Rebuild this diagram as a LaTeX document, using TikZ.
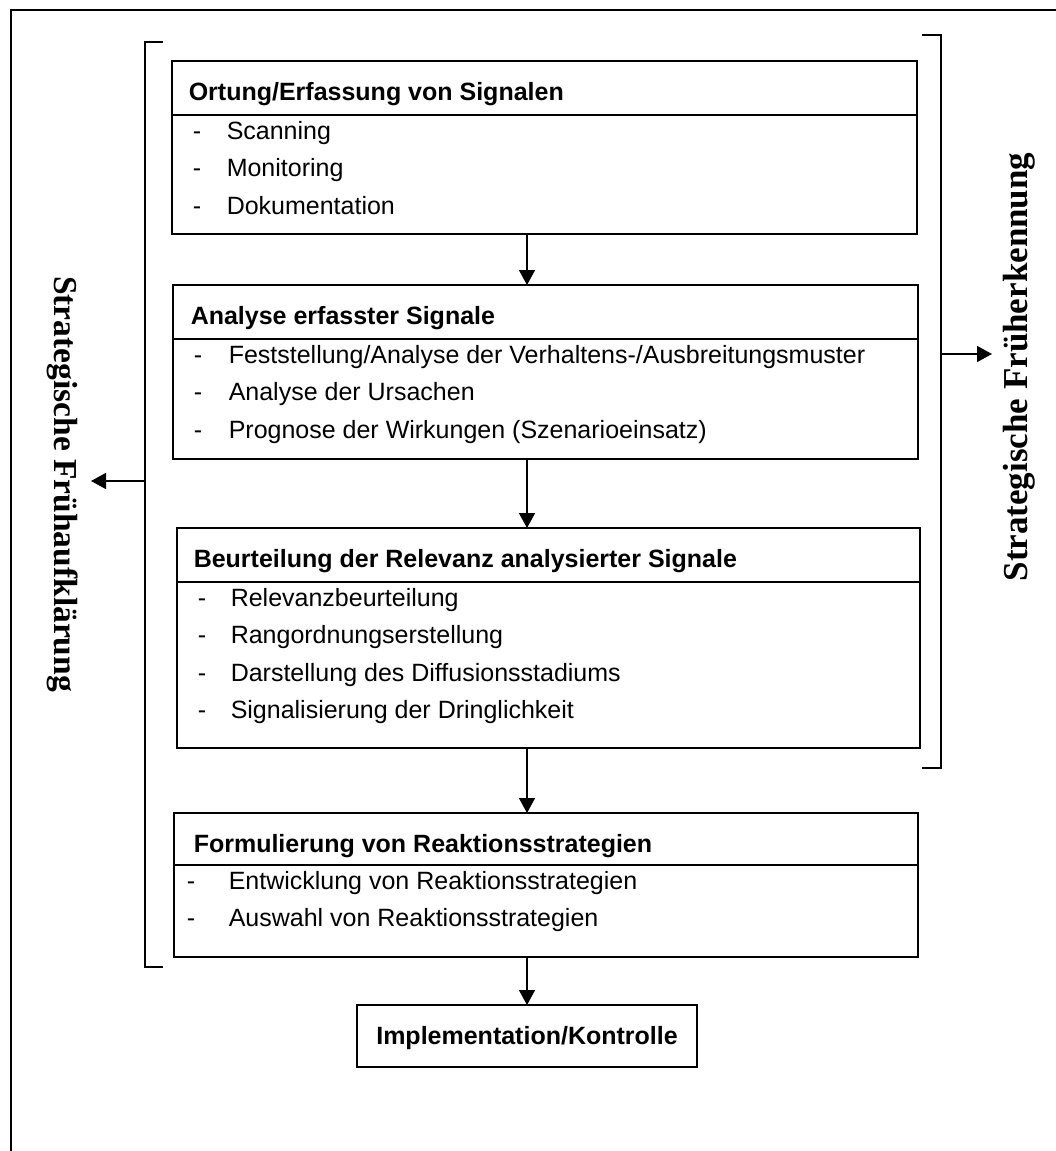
\documentclass[tikz,border=0pt]{standalone}
\usepackage{fontspec}
\setmainfont{Liberation Sans}
\newfontfamily\sidefont{Liberation Serif}
\usetikzlibrary{arrows.meta}
\begin{document}
\begin{tikzpicture}[x=1pt,y=-1pt,line width=1.5pt,
  box/.style={draw,rectangle,anchor=north west,inner sep=0pt,outer sep=0pt},
  hd/.style={anchor=base west,inner sep=0pt,font=\fontsize{25}{30}\selectfont\bfseries},
  it/.style={anchor=base west,inner sep=0pt,font=\fontsize{25}{30}\selectfont},
  arr/.style={-{Triangle[length=15pt,width=16pt]}},
  side/.style={inner sep=0pt,font=\fontsize{33.5}{40}\selectfont\sidefont\bfseries}]
\useasboundingbox (0,0) rectangle (1056,1151);
% outer frame (cropped)
\draw (1056,10) -- (11,10) -- (11,1151);
% helper coordinates
\coordinate (ax) at (527,0);
\coordinate (s1) at (0,115);
\coordinate (s2) at (0,339);
\coordinate (s3) at (0,582);
\coordinate (s4) at (0,865);
% boxes
\node[box,minimum width=745pt,minimum height=173pt] (b1) at (172,61) {};
\node[box,minimum width=745pt,minimum height=174pt] (b2) at (173,285) {};
\node[box,minimum width=743pt,minimum height=220pt] (b3) at (177,528) {};
\node[box,minimum width=744pt,minimum height=144pt] (b4) at (174,813) {};
\node[box,minimum width=340pt,minimum height=62pt] (b5) at (357,1005) {};
% separators
\draw (b1.west |- s1) -- (b1.east |- s1);
\draw (b2.west |- s2) -- (b2.east |- s2);
\draw (b3.west |- s3) -- (b3.east |- s3);
\draw (b4.west |- s4) -- (b4.east |- s4);
% box 1
\node[hd] (h1) at (188,100) {Ortung/Erfassung von Signalen};
\node[it] (d11) at (192,139) {-};
\node[it] (t11) at (226,139) {Scanning};
\node[it] (d12) at (192,176.5) {-};
\node[it] (t12) at (226,176.5) {Monitoring};
\node[it] (d13) at (192,214) {-};
\node[it] (t13) at (226,214) {Dokumentation};
% box 2
\node[hd] (h2) at (190,324) {Analyse erfasster Signale};
\node[it] (d21) at (193,363) {-};
\node[it] (t21) at (228,363) {Feststellung/Analyse der Verhaltens-/Ausbreitungsmuster};
\node[it] (d22) at (193,400.5) {-};
\node[it] (t22) at (228,400.5) {Analyse der Ursachen};
\node[it] (d23) at (193,438) {-};
\node[it] (t23) at (228,438) {Prognose der Wirkungen (Szenarioeinsatz)};
% box 3
\node[hd] (h3) at (193,567) {Beurteilung der Relevanz analysierter Signale};
\node[it] (d31) at (197,606) {-};
\node[it] (t31) at (230,606) {Relevanzbeurteilung};
\node[it] (d32) at (197,643.5) {-};
\node[it] (t32) at (230,643.5) {Rangordnungserstellung};
\node[it] (d33) at (197,681) {-};
\node[it] (t33) at (230,681) {Darstellung des Diffusionsstadiums};
\node[it] (d34) at (197,718.5) {-};
\node[it] (t34) at (230,718.5) {Signalisierung der Dringlichkeit};
% box 4
\node[hd] (h4) at (193,852) {Formulierung von Reaktionsstrategien};
\node[it] (d41) at (186,889) {-};
\node[it] (t41) at (228,889) {Entwicklung von Reaktionsstrategien};
\node[it] (d42) at (186,926.5) {-};
\node[it] (t42) at (228,926.5) {Auswahl von Reaktionsstrategien};
% box 5
\node[hd,anchor=base] (h5) at (527,1044) {Implementation/Kontrolle};
% vertical arrows
\draw[arr] (b1.south -| ax) -- (b2.north -| ax);
\draw[arr] (b2.south -| ax) -- (b3.north -| ax);
\draw[arr] (b3.south -| ax) -- (b4.north -| ax);
\draw[arr] (b4.south -| ax) -- (b5.north -| ax);
% brackets
\draw (163,42) -- (145,42) -- (145,967) -- (163,967);
\draw (922,35) -- (941,35) -- (941,768) -- (922,768);
% side labels
\node[side,rotate=-90] (L) at (63,484) {Strategische Frühaufklärung};
\node[side,rotate=90,font=\fontsize{35}{42}\selectfont\sidefont\bfseries] (R) at (1019,367) {Strategische Früherkennung};
\coordinate (lb) at (145,481);
\coordinate (lt) at (91,481);
\coordinate (rb) at (941,354);
\coordinate (rt) at (992,354);
\draw[arr] (lb) -- (lt);
\draw[arr] (rb) -- (rt);
\end{tikzpicture}
\end{document}
